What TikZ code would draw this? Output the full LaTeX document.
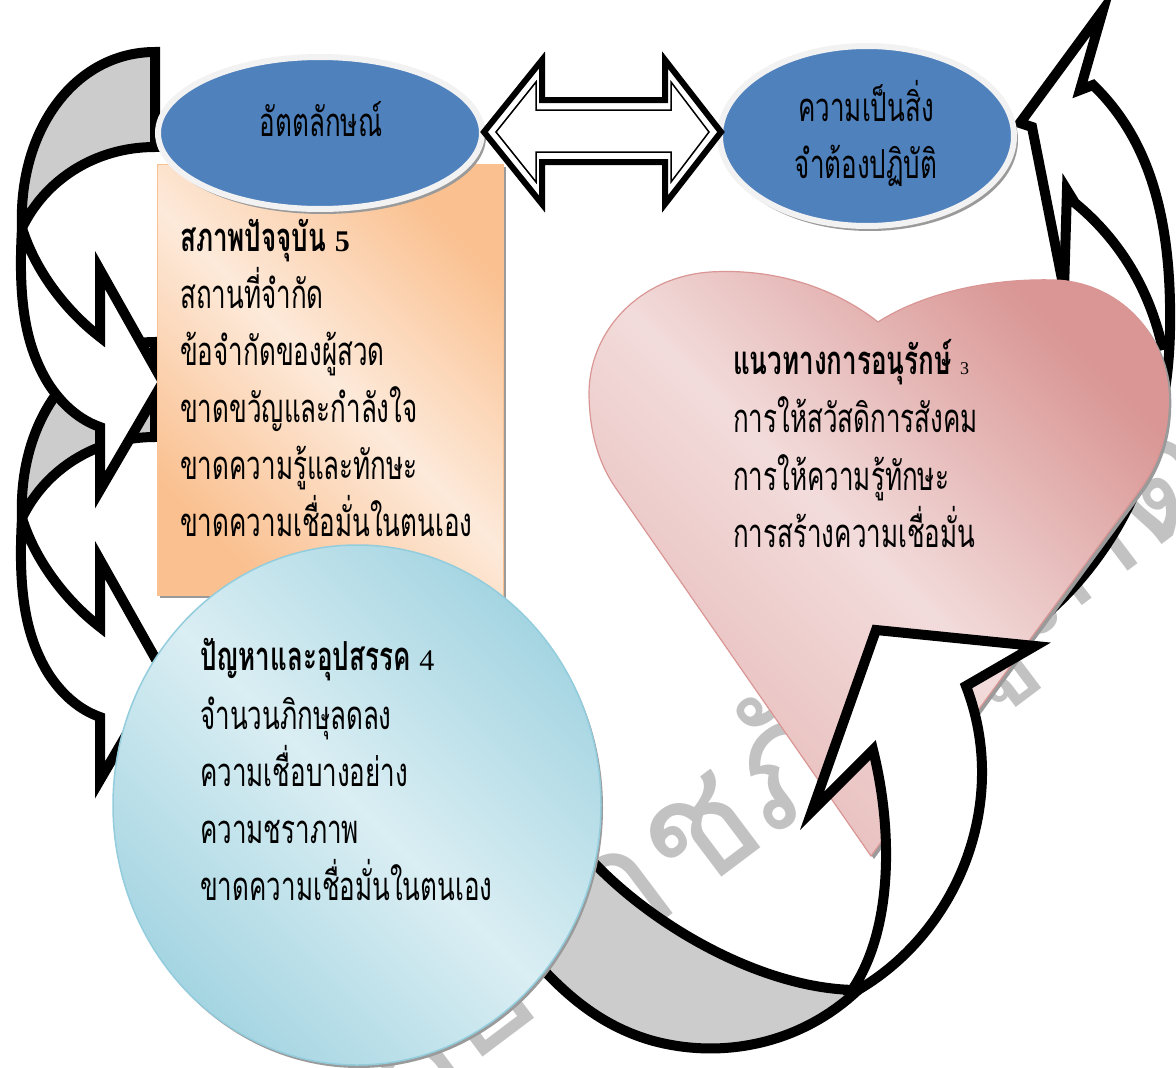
\documentclass[tikz,border=0pt]{standalone}
\usepackage{fontspec}
\newfontfamily\thaifont[Script=Thai,FakeStretch=0.65]{Loma}
\newfontfamily\wmfont[Script=Thai,FakeStretch=1.0]{Loma}
\newfontfamily\numfont{Liberation Serif}
\definecolor{ellblue}{HTML}{4F81BD}
\definecolor{ellrim}{HTML}{F2F2F2}
\definecolor{shadowgray}{HTML}{9A9A9A}
\definecolor{backgray}{HTML}{CCCCCC}
\definecolor{orgdark}{HTML}{FAC090}
\definecolor{orglight}{HTML}{FDEADA}
\definecolor{cirdark}{HTML}{A5D5E2}
\definecolor{cirlight}{HTML}{DAEEF3}
\definecolor{cirrim}{HTML}{93CDDD}
\definecolor{heartdark}{HTML}{D99694}
\definecolor{heartlight}{HTML}{F2DCDB}
\definecolor{heartlow}{HTML}{E6B9B8}
\definecolor{wmgray}{HTML}{C2C2C2}
\newcommand\bodyfont{\thaifont\fontsize{40}{40}\selectfont}
\newcommand\leftcurve{%
  \draw[arrline, fill=backgray] (155,52) .. controls (75,52) and (18,130) .. (22,228)
     .. controls (45,180) and (95,147) .. (155,147) -- cycle;
  \draw[arrline, fill=white] (22,228) .. controls (18,300) and (25,345) .. (48,383)
     .. controls (62,405) and (80,420) .. (100,427) -- (100,490) -- (163,382) -- (100,270)
     -- (100,337) .. controls (65,310) and (35,270) .. (22,228) -- cycle;
}
\tikzset{
  arrline/.style={line width=10pt, line join=miter, draw=black},
  txt/.style={anchor=base west, inner sep=0pt, font=\bodyfont},
  ctxt/.style={anchor=base, inner sep=0pt, font=\bodyfont},
  wm/.style={rotate=37, text=wmgray, inner sep=0pt, font=\wmfont\fontsize{160}{160}\selectfont},
}
\begin{document}
\begin{tikzpicture}[x=1pt,y=-1pt]
\useasboundingbox (0,0) rectangle (1176,1068);
\clip (0,0) rectangle (1176,1068);
% watermark
\node[wm, anchor=base east] (wmA) at (545,1010) {มหาวิทยาลัย};
\node[wm, anchor=base west] (wmB) at (545,1010) {ราชภัฏภูเก็ต};
% right curved arrow (behind heart)
\draw[arrline, fill=white] (1103,10) -- (1080,90) -- (1093,85)
   .. controls (1150,140) and (1172,220) .. (1170,330)
   .. controls (1168,450) and (1120,550) .. (1045,615) -- (1072,330) -- (1032,127) -- (1020,123) -- cycle;
\draw[arrline] (1064,290) -- (1067,190) -- (1075,203) .. controls (1120,240) and (1150,290) .. (1163,350);
% left curved arrows
\begin{scope}[shift={(0,290)}]\leftcurve\end{scope}
\leftcurve
% rectangle
\fill[shadowgray] (160,167) rectangle (506,598);
\shade[top color=orgdark, bottom color=orgdark, middle color=orglight, shading angle=-45]
  (157,164) rectangle (503,595);
\draw[orgdark, line width=1pt] (157,164) rectangle (503,595);
% ellipses
\fill[shadowgray] (323,137) ellipse [x radius=163, y radius=77];
\draw[ellrim, line width=6pt, fill=ellblue] (320,133) ellipse [x radius=162, y radius=76];
\fill[shadowgray] (870,140) ellipse [x radius=148, y radius=91];
\draw[ellrim, line width=6pt, fill=ellblue] (867,136) ellipse [x radius=147, y radius=90];
% double arrow
\draw[line width=6pt, line join=miter, fill=white] (484,132) -- (542,60) -- (542,100) -- (665,100)
  -- (665,60) -- (721,132) -- (665,204) -- (665,162) -- (542,162) -- (542,204) -- cycle;
\draw[line width=1.5pt, line join=miter] (496,132) -- (536,82) -- (536,110) -- (671,110) -- (671,82)
  -- (709,132) -- (671,182) -- (671,152) -- (536,152) -- (536,182) -- cycle;
% heart
\fill[shadowgray] (881,325) .. controls (838,291) and (778,271) .. (713,275)
  .. controls (643,280) and (593,333) .. (592,395) .. controls (592,433) and (601,465) .. (618,490)
  -- (874,859) -- (1145,490) .. controls (1165,461) and (1173,428) .. (1171,393)
  .. controls (1166,328) and (1115,285) .. (1058,283) .. controls (988,281) and (923,298) .. (881,325) -- cycle;
\shade[top color=heartdark, bottom color=heartlow, middle color=heartlight, shading angle=-45]
  (878,322) .. controls (835,288) and (775,268) .. (710,272)
  .. controls (640,277) and (590,330) .. (589,392) .. controls (589,430) and (598,462) .. (615,487)
  -- (871,856) -- (1142,487) .. controls (1162,458) and (1170,425) .. (1168,390)
  .. controls (1163,325) and (1112,282) .. (1055,280) .. controls (985,278) and (920,295) .. (878,322) -- cycle;
\draw[heartdark, line width=1.2pt]
  (878,322) .. controls (835,288) and (775,268) .. (710,272)
  .. controls (640,277) and (590,330) .. (589,392) .. controls (589,430) and (598,462) .. (615,487)
  -- (871,856) -- (1142,487) .. controls (1162,458) and (1170,425) .. (1168,390)
  .. controls (1163,325) and (1112,282) .. (1055,280) .. controls (985,278) and (920,295) .. (878,322) -- cycle;
% bottom curved arrow
\draw[arrline, fill=backgray] (578,845) .. controls (640,920) and (760,990) .. (858,990)
  .. controls (800,1045) and (720,1060) .. (650,1040) .. controls (600,1025) and (565,995) .. (530,955);
\draw[arrline, fill=white] (858,990) .. controls (960,930) and (1010,800) .. (966,686) -- (1035,646)
  -- (876,630) -- (812,811) -- (873,750) .. controls (893,830) and (893,930) .. (852,990) -- cycle;
% circle
\fill[shadowgray] (359,808) ellipse [x radius=244, y radius=260];
\shade[top color=cirdark, bottom color=cirdark, middle color=cirlight, shading angle=-45]
  (357,805) ellipse [x radius=244, y radius=260];
\draw[cirrim, line width=1.5pt] (357,805) ellipse [x radius=244, y radius=260];
% texts
\node[ctxt] (t1) at (321,136) {อัตตลักษณ์};
\node[ctxt] (t2) at (866,121) {ความเป็นสิ่ง};
\node[ctxt] (t3) at (866,178) {จำต้องปฏิบัติ};
\node[txt] (r0) at (180,251) {\textbf{สภาพปัจจุบัน} {\numfont\bfseries\fontsize{30}{30}\selectfont 5}};
\node[txt] (r1) at (180,308) {สถานที่จำกัด};
\node[txt] (r2) at (180,365) {ข้อจำกัดของผู้สวด};
\node[txt] (r3) at (180,422) {ขาดขวัญและกำลังใจ};
\node[txt] (r4) at (180,479) {ขาดความรู้และทักษะ};
\node[txt] (r5) at (180,536) {ขาดความเชื่อมั่นในตนเอง};
\node[txt] (h0) at (733,374) {\textbf{แนวทางการอนุรักษ์} {\numfont\fontsize{18}{18}\selectfont 3}};
\node[txt] (h1) at (733,432) {การให้สวัสดิการสังคม};
\node[txt] (h2) at (733,490) {การให้ความรู้ทักษะ};
\node[txt] (h3) at (733,547) {การสร้างความเชื่อมั่น};
\node[txt] (c0) at (200,670) {\textbf{ปัญหาและอุปสรรค} {\numfont\fontsize{30}{30}\selectfont 4}};
\node[txt] (c1) at (200,729) {จำนวนภิกษุลดลง};
\node[txt] (c2) at (200,786) {ความเชื่อบางอย่าง};
\node[txt] (c3) at (200,843) {ความชราภาพ};
\node[txt] (c4) at (200,900) {ขาดความเชื่อมั่นในตนเอง};
\end{tikzpicture}
\end{document}
